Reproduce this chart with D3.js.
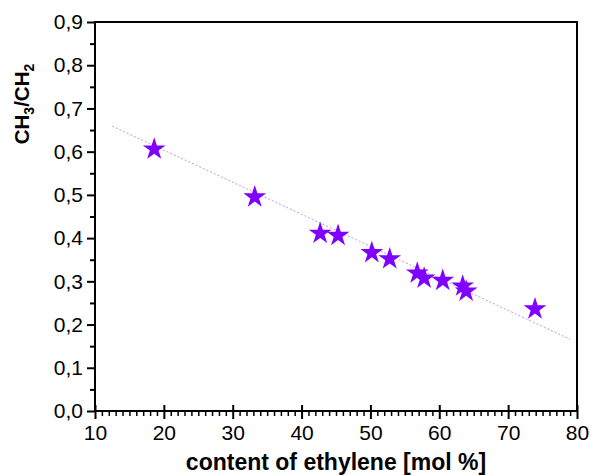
<!DOCTYPE html>
<html>
<head>
<meta charset="utf-8">
<script src="https://cdn.jsdelivr.net/npm/d3@7"></script>
<style>
  body { margin: 0; background: #fff; }
  text { font-family: "Liberation Sans", Arial, sans-serif; }
</style>
</head>
<body>
<div id="chart"></div>
<script>
const width = 590,
    height = 475,
    margin = ({ top: 22, right: 13, bottom: 64, left: 95 });

// ethylene content [mol %] and CH3/CH2 ratio
const ethylene = [18.6, 33.2, 42.7, 45.3, 50.2, 52.8, 56.8, 57.8, 60.5, 63.4, 63.9, 73.9];
const ratio = [0.606, 0.495, 0.411, 0.406, 0.366, 0.352, 0.319, 0.307, 0.302, 0.289, 0.277, 0.236];

// fitted line end points
const fitX = [12.5, 79.0];
const fitY = [0.659, 0.166];

const xTicks = [10, 20, 30, 40, 50, 60, 70, 80];
const yTicks = [0, 0.1, 0.2, 0.3, 0.4, 0.5, 0.6, 0.7, 0.8, 0.9];

const svg = d3.select("#chart")
    .append("svg")
    .attr("width", width)
    .attr("height", height);

let x = d3.scaleLinear()
    .domain([10, 80])
    .range([margin.left, width - margin.right]);

let y = d3.scaleLinear()
    .domain([0, 0.9])
    .range([height - margin.bottom, margin.top]);

const fmt = d => d3.format(".1f")(d).replace(".", ",");

// frame
svg.append("rect")
    .attr("x", x(10))
    .attr("y", y(0.9))
    .attr("width", x(80) - x(10))
    .attr("height", y(0) - y(0.9))
    .attr("fill", "none")
    .attr("stroke", "#000")
    .attr("stroke-width", 2);

// y axis minor ticks
svg.append("g")
    .attr("transform", `translate(${x(10)},0)`)
    .call(d3.axisLeft(y).tickValues(d3.range(0.05, 0.9, 0.1)).tickSize(5).tickFormat(""))
    .call(g => g.select(".domain").remove())
    .call(g => g.selectAll("line").attr("stroke-width", 2));

// y axis major
svg.append("g")
    .attr("transform", `translate(${x(10)},0)`)
    .call(d3.axisLeft(y).tickValues(yTicks).tickSize(8).tickPadding(4).tickFormat(fmt))
    .call(g => g.select(".domain").remove())
    .call(g => g.selectAll("line").attr("stroke-width", 2))
    .call(g => g.selectAll("text").attr("font-size", 21).attr("font-family", "Liberation Sans, Arial, sans-serif"));

// x axis minor ticks
svg.append("g")
    .attr("transform", `translate(0,${y(0)})`)
    .call(d3.axisBottom(x).tickValues(d3.range(11, 80, 1).filter(d => d % 10 !== 0)).tickSize(5).tickFormat(""))
    .call(g => g.select(".domain").remove())
    .call(g => g.selectAll("line").attr("stroke-width", 1.5));

// x axis major
svg.append("g")
    .attr("transform", `translate(0,${y(0)})`)
    .call(d3.axisBottom(x).tickValues(xTicks).tickSize(8).tickPadding(6).tickFormat(d => d))
    .call(g => g.select(".domain").remove())
    .call(g => g.selectAll("line").attr("stroke-width", 2).attr("y1", -6))
    .call(g => g.selectAll("text").attr("font-size", 21).attr("font-family", "Liberation Sans, Arial, sans-serif"));

// fit line
svg.append("line")
    .attr("x1", x(fitX[0]))
    .attr("y1", y(fitY[0]))
    .attr("x2", x(fitX[1]))
    .attr("y2", y(fitY[1]))
    .attr("stroke", "#bf96f7")
    .attr("stroke-width", 1)
    .attr("stroke-dasharray", "2,2");

// points
svg.append("g")
    .selectAll("path")
    .data(ethylene)
    .join("path")
    .attr("transform", (d, i) => `translate(${x(d)},${y(ratio[i])})`)
    .attr("d", d3.symbol(d3.symbolStar, 160))
    .attr("fill", "#7f00ff");

// axis titles
svg.append("text")
    .attr("x", (x(10) + x(80)) / 2)
    .attr("y", 470)
    .attr("text-anchor", "middle")
    .attr("font-size", 23)
    .attr("font-weight", "bold")
    .text("content of ethylene [mol %]");

const yl = svg.append("text")
    .attr("transform", `translate(29,104) rotate(-90)`)
    .attr("text-anchor", "middle")
    .attr("font-size", 20.5)
    .attr("font-weight", "bold");
yl.append("tspan").text("CH");
yl.append("tspan").text("3").attr("font-size", 14).attr("dy", 5);
yl.append("tspan").text("/CH").attr("dy", -5);
yl.append("tspan").text("2").attr("font-size", 14).attr("dy", 5);
</script>
</body>
</html>
